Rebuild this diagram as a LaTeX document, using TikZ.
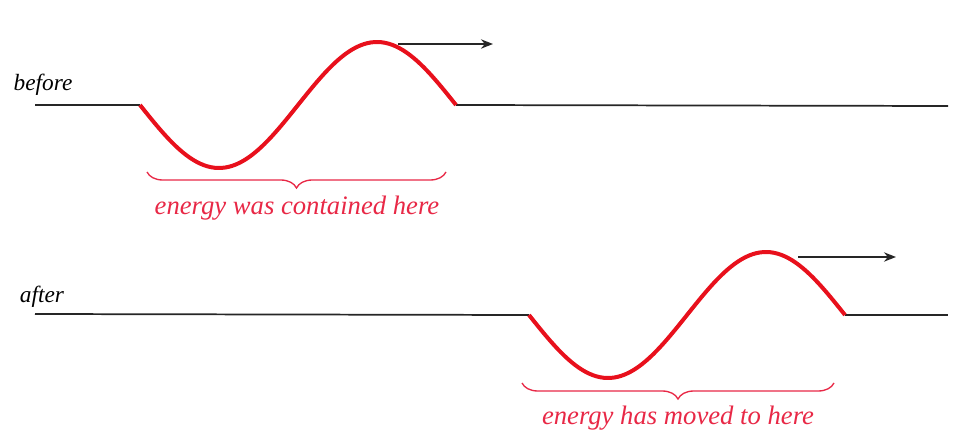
\documentclass[tikz,border=0pt]{standalone}
\usepackage{fontspec}
\setmainfont{Liberation Serif}
\usepackage{xcolor}
\usetikzlibrary{arrows.meta,calc,decorations.pathreplacing}

\definecolor{wavered}{RGB}{232,16,28}
\definecolor{capred}{RGB}{232,40,70}

\begin{document}
\begin{tikzpicture}[x=0.75pt, y=-0.75pt, >={Stealth[length=9pt, width=7pt]},
                string/.style={black!85, line width=1.3pt},
                pulse/.style={wavered, line width=3pt},
                motion/.style={->, black!85, line width=1.3pt},
                energybrace/.style={decorate, decoration={brace, mirror, amplitude=12pt}, draw=capred, line width=1pt},
                caption/.style={text=capred, font=\fontsize{20}{24}\selectfont\itshape},
                tag/.style={font=\fontsize{17.5}{21}\selectfont\itshape}]
		\useasboundingbox (0,0) rectangle (961,445);
		% before
		\begin{scope}
			\node [tag] (before) at (43,85) {before};
			\coordinate (bl) at (35,105);
			\coordinate (b0) at (140,105);
			\coordinate (b1) at (456,105);
			\coordinate (br) at (948,106);
			\coordinate (bpeak) at (398,44);
			\coordinate (btip) at (493,44);
			\draw [string] (bl) -- (b0);
			\draw [string] (b1) -- (br);
			\draw [pulse] (b0) plot [domain=0:360, samples=90] ({140+0.8778*\x},{105+63*sin(\x)});
			\draw [motion] (bpeak) -- (btip);
			\coordinate (bb0) at (147,172);
			\coordinate (bb1) at (446,172);
			\draw [energybrace] (bb0) -- (bb1);
			\node [caption] (bcap) at (297,208) {energy was contained here};
		\end{scope}
		% after
		\begin{scope}
			\node [tag] (after) at (42,297) {after};
			\coordinate (al) at (35,314);
			\coordinate (a0) at (529,315);
			\coordinate (a1) at (845,315);
			\coordinate (ar) at (948,315);
			\coordinate (apeak) at (798,257);
			\coordinate (atip) at (896,257);
			\draw [string] (al) -- (a0);
			\draw [string] (a1) -- (ar);
			\draw [pulse] (a0) plot [domain=0:360, samples=90] ({529+0.8778*\x},{315+63*sin(\x)});
			\draw [motion] (apeak) -- (atip);
			\coordinate (ab0) at (522,383);
			\coordinate (ab1) at (834,383);
			\draw [energybrace] (ab0) -- (ab1);
			\node [caption] (acap) at (678,418) {energy has moved to here};
		\end{scope}
\end{tikzpicture}
\end{document}
